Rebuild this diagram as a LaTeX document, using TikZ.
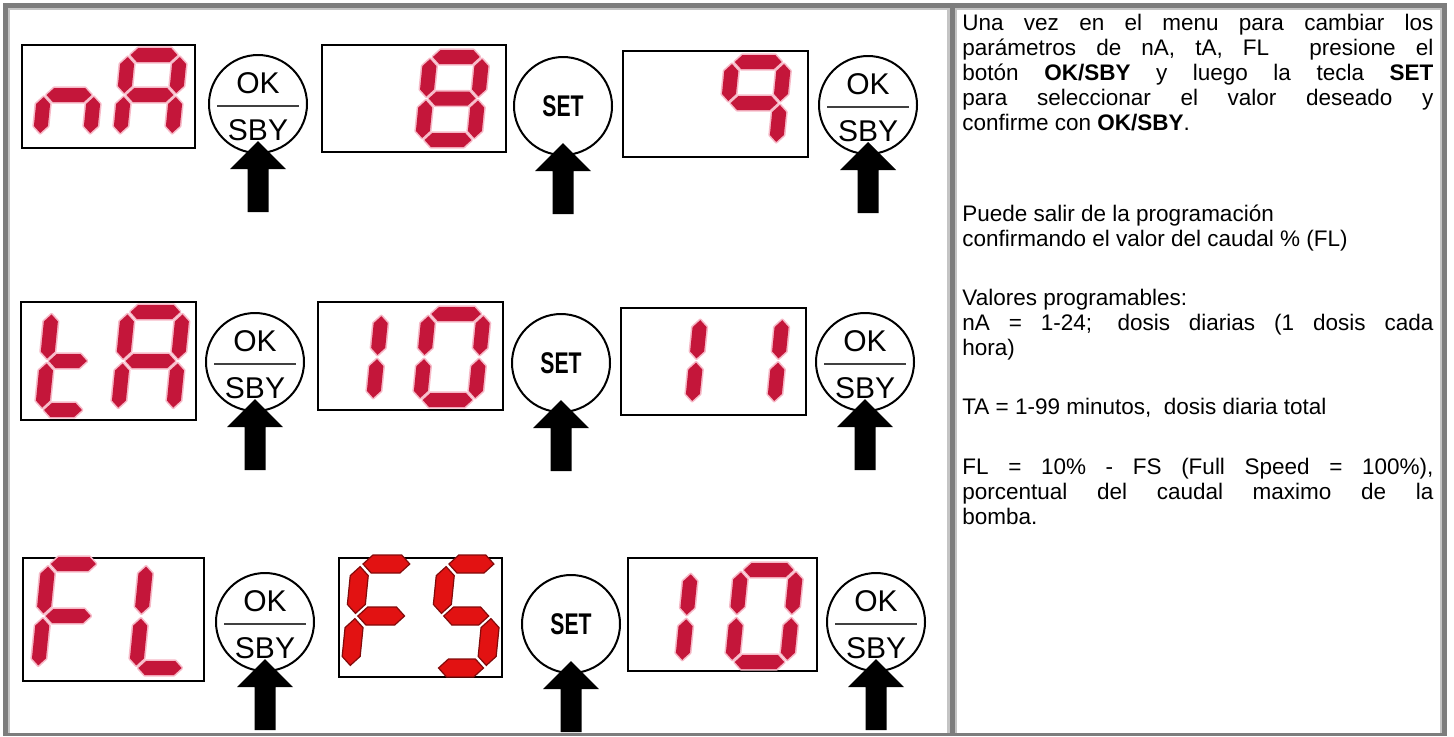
\documentclass[tikz,border=0pt]{standalone}
\usepackage{fontspec}
\setmainfont{Liberation Sans}
\usetikzlibrary{calc,fit}
\definecolor{frmdark}{RGB}{125,125,125}
\definecolor{frmlight}{RGB}{196,196,196}
\definecolor{segred}{RGB}{196,22,58}
\definecolor{segglow}{RGB}{246,186,200}
\definecolor{fsred}{RGB}{226,18,18}
\definecolor{fsdark}{RGB}{130,10,10}
\hyphenpenalty=10000 \exhyphenpenalty=10000 \tolerance=10000

% seven segment digits: unit box 1 wide, 2 high
\newcommand\segT{14}
\newcommand\hseg[3]{\fill[segcol] (#1,#3) -- ({#1+\segtx/2},{#3+\segty/2}) -- ({#2-\segtx/2},{#3+\segty/2})
  -- (#2,#3) -- ({#2-\segtx/2},{#3-\segty/2}) -- ({#1+\segtx/2},{#3-\segty/2}) -- cycle;}
\newcommand\vseg[3]{\fill[segcol] (#1,#2) -- ({#1+\segtx/2},{#2+\segty/2}) -- ({#1+\segtx/2},{#3-\segty/2})
  -- (#1,#3) -- ({#1-\segtx/2},{#3-\segty/2}) -- ({#1-\segtx/2},{#2+\segty/2}) -- cycle;}
\newcommand\dsega{\hseg{0.05}{0.95}{2}}
\newcommand\dsegb{\vseg{1}{1.05}{1.95}}
\newcommand\dsegc{\vseg{1}{0.05}{0.95}}
\newcommand\dsegd{\hseg{0.05}{0.95}{0}}
\newcommand\dsege{\vseg{0}{0.05}{0.95}}
\newcommand\dsegf{\vseg{0}{1.05}{1.95}}
\newcommand\dsegg{\hseg{0.05}{0.95}{1}}
\newcommand\segdigit[5]{% x0, y bottom, width, height, segments
  \begin{scope}[shift={(#1,#2)},x={(#3*0.5pt,0pt)},y={(#4*0.025pt,#4*0.25pt)}]
    \pgfmathsetmacro\segtx{\segT/#3}
    \pgfmathsetmacro\segty{2*\segT/#4}
    \foreach \s in {#5}{\csname dseg\s\endcsname}
  \end{scope}}

\tikzset{
  segcol/.style={fill=segred,preaction={draw=segglow,line width=1.6pt,line join=round}},
  btn/.style={circle,draw,line width=1pt,minimum size=49pt,inner sep=0pt},
  btnlbl/.style={inner sep=0pt,font=\fontsize{15}{15}\selectfont},
  btnrule/.style={line width=1pt,black!75},
  setlbl/.style={font=\bfseries\fontsize{11.5}{11.5}\selectfont},
  disp/.style={draw,line width=0.8pt,inner sep=0pt},
  para/.style={anchor=base west,inner sep=0pt,text width=235.5pt,align=justify,
    font=\fontsize{11.25}{12.5}\selectfont},
  pusharrow/.pic={\fill (0,37) -- (28,65) -- (10.5,65) -- (10.5,108) -- (-10.5,108)
    -- (-10.5,65) -- (-28,65) -- cycle;}
}
\newcommand\okbtn[2]{%
  \node[btn] (#1) at (#2) {};
  \node[btnlbl] (#1ok) at ($(#1.center)+(0,-21)$) {OK};
  \node[btnlbl] (#1sby) at ($(#1.center)+(0,26)$) {SBY};
  \draw[btnrule] ($(#1.center)+(-41,2)$) -- ($(#1.center)+(41,2)$);
  \pic at (#1.center) {pusharrow};}
\newcommand\setbtn[2]{%
  \node[btn,setlbl] (#1) at (#2) {\scalebox{0.92}[1.3]{SET}};
  \pic at (#1.center) {pusharrow};}

\begin{document}
\begin{tikzpicture}[x=0.5pt,y=-0.5pt]
  \useasboundingbox (0,0) rectangle (1454,736);
  % table frame
  \fill[frmdark] (3,3) rectangle (1447,8);
  \fill[frmdark] (3,3) rectangle (8,736);
  \fill[frmdark] (1442,3) rectangle (1447,736);
  \fill[frmdark] (950,3) rectangle (955,736);
  \fill[frmdark] (3,733) rectangle (1447,736);
  \fill[frmlight] (8,8) rectangle (950,10);
  \fill[frmlight] (955,8) rectangle (1442,10);
  \fill[frmlight] (8,10) rectangle (10,733);
  \fill[frmlight] (947,10) rectangle (950,733);
  \fill[frmlight] (955,10) rectangle (957,733);
  \fill[frmlight] (1440,10) rectangle (1442,733);

  % row 1: nA
  \node[disp,fit={(22,45) (195,148)}] (dnA) {};
  \segdigit{40}{135}{50}{80}{c,e,g}
  \segdigit{120}{135}{52}{80}{a,b,c,e,f,g}
  \okbtn{okA}{258,104}
  \node[disp,fit={(322,45) (506,152)}] (dA8) {};
  \segdigit{422}{140}{52}{83}{a,b,c,d,e,f,g}
  \setbtn{setA}{563,106}
  \node[disp,fit={(623,51) (808,157)}] (dA9) {};
  \segdigit{724}{144}{52}{82}{a,b,c,f,g}
  \okbtn{okAA}{868,105}

  % row 2: tA
  \node[disp,fit={(21,302) (196,420)}] (dtA) {};
  \segdigit{42}{410}{42}{98}{d,e,f,g}
  \segdigit{118}{410}{55}{98}{a,b,c,e,f,g}
  \okbtn{okB}{255,362}
  \node[disp,fit={(318,302) (503,410)}] (dB10) {};
  \segdigit{318}{400}{55}{86}{b,c}
  \segdigit{420}{400}{55}{86}{a,b,c,d,e,f}
  \setbtn{setB}{561,363}
  \node[disp,fit={(621,308) (806,415)}] (dB11) {};
  \segdigit{637}{403}{55}{85}{b,c}
  \segdigit{719}{403}{55}{85}{b,c}
  \okbtn{okBB}{865,362}

  % row 3: FL
  \node[disp,fit={(23,558) (204,681)}] (dFL) {};
  \segdigit{38}{668}{50}{104}{a,e,f,g}
  \segdigit{136}{668}{48}{104}{d,e,f}
  \okbtn{okC}{265,622}
  \node[disp,fit={(339,558) (502,677)}] (dFS) {};
  \begin{scope}[segcol/.style={fill=fsred,draw=fsdark,line width=0.6pt}]
    \renewcommand\segT{18}
    \segdigit{350}{668}{52}{104}{a,e,f,g}
    \segdigit{436}{668}{50}{104}{a,c,d,f,g}
  \end{scope}
  \setbtn{setC}{571,624}
  \node[disp,fit={(628,558) (817,671)}] (dC10) {};
  \segdigit{627}{662}{55}{90}{b,c}
  \segdigit{732}{662}{55}{92}{a,b,c,d,e,f}
  \okbtn{okCC}{876,622}

  % instructions
  \node[para] (tmenu) at (962,30) {Una vez en el menu para cambiar los\linebreak
    parámetros de nA, tA, FL\ \ presione el\linebreak
    botón \textbf{OK/SBY} y luego la tecla \textbf{SET}\linebreak
    para seleccionar el valor deseado y\linebreak
    confirme con \textbf{OK/SBY}.};
  \node[para] (texit) at (962,221) {Puede salir de la programación\\
    confirmando el valor del caudal \% (FL)};
  \node[para] (tvals) at (962,305) {Valores programables:\\
    nA = 1-24; dosis diarias (1 dosis cada\linebreak hora)};
  \node[para] (tta) at (962,414) {TA = 1-99 minutos,\ \ dosis diaria total};
  \node[para] (tfl) at (962,474) {FL = 10\% - FS (Full Speed = 100\%),\linebreak
    porcentual del caudal maximo de la\linebreak bomba.};
\end{tikzpicture}
\end{document}
